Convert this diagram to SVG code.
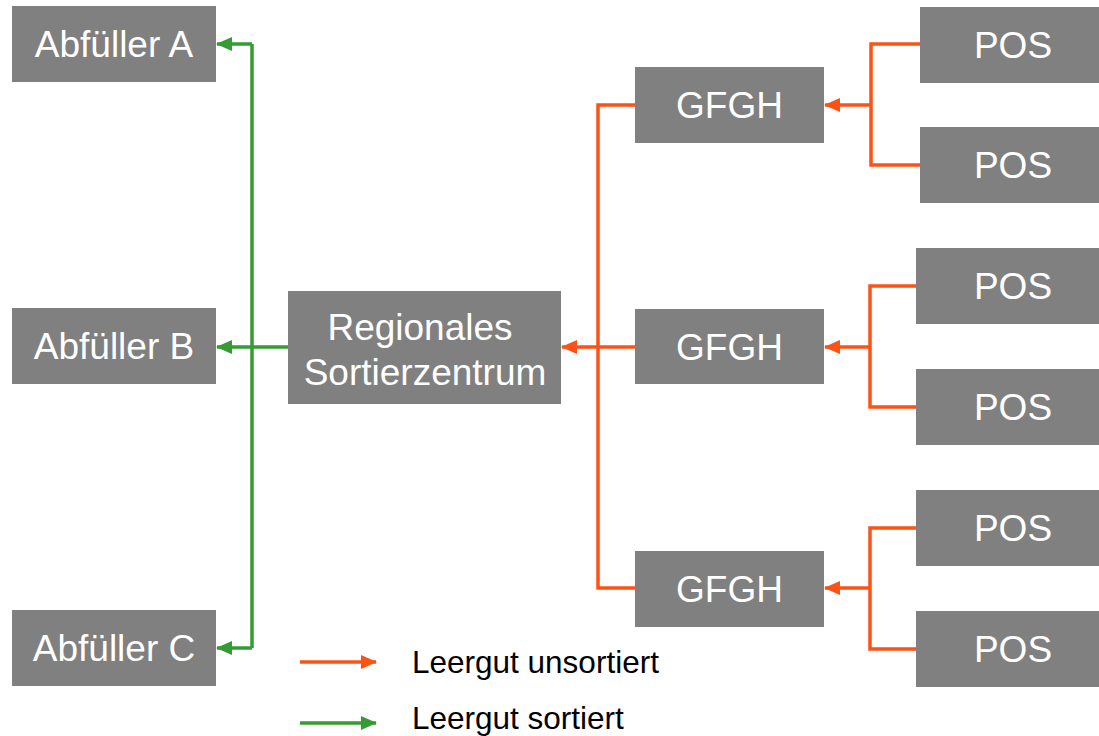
<svg xmlns="http://www.w3.org/2000/svg" width="1099" height="736" viewBox="0 0 1099 736">
<style>
.box{fill:#808080}
.lbl{font-family:"Liberation Sans",Arial,sans-serif;font-size:37px;fill:#fff;text-anchor:middle}
.leg{font-family:"Liberation Sans",Arial,sans-serif;font-size:31.5px;fill:#000}
.or{stroke:#FC5216;stroke-width:3.5;fill:none}
.gr{stroke:#359B35;stroke-width:3.5;fill:none}
</style>
<defs>
<marker id="ao" markerUnits="userSpaceOnUse" markerWidth="16" markerHeight="14" refX="15" refY="7" orient="auto"><path d="M0,0 L16,7 L0,14 z" fill="#FC5216"/></marker>
<marker id="ag" markerUnits="userSpaceOnUse" markerWidth="16" markerHeight="14" refX="15" refY="7" orient="auto"><path d="M0,0 L16,7 L0,14 z" fill="#359B35"/></marker>
</defs>
<rect width="1099" height="736" fill="#fff"/>
<g id="connectors">
<path class="gr" d="M252,44 V648"/>
<path class="gr" d="M252,44 H217" marker-end="url(#ag)"/>
<path class="gr" d="M288,347 H217" marker-end="url(#ag)"/>
<path class="gr" d="M252,648 H217" marker-end="url(#ag)"/>
<path class="or" d="M635,105 H598 V588 H635"/>
<path class="or" d="M635,347 H562" marker-end="url(#ao)"/>
<path class="or" d="M920,44 H871 V165 H920"/>
<path class="or" d="M871,105 H825" marker-end="url(#ao)"/>
<path class="or" d="M916,286 H870 V407 H916"/>
<path class="or" d="M870,347 H825" marker-end="url(#ao)"/>
<path class="or" d="M916,528 H870 V649 H916"/>
<path class="or" d="M870,588 H825" marker-end="url(#ao)"/>
</g>
<g id="abfueller-a"><rect class="box" x="12" y="6" width="204" height="76"/><text class="lbl" x="114" y="57">Abfüller A</text></g>
<g id="abfueller-b"><rect class="box" x="12" y="308" width="204" height="76"/><text class="lbl" x="114" y="359">Abfüller B</text></g>
<g id="abfueller-c"><rect class="box" x="12" y="610" width="204" height="76"/><text class="lbl" x="114" y="661">Abfüller C</text></g>
<g id="sortierzentrum"><rect class="box" x="288" y="291" width="273" height="113"/><text class="lbl" x="420" y="340">Regionales</text><text class="lbl" x="425" y="385">Sortierzentrum</text></g>
<g id="gfgh-1"><rect class="box" x="635" y="67" width="189" height="76"/><text class="lbl" x="729.5" y="118">GFGH</text></g>
<g id="gfgh-2"><rect class="box" x="635" y="309" width="189" height="75"/><text class="lbl" x="729.5" y="360">GFGH</text></g>
<g id="gfgh-3"><rect class="box" x="635" y="551" width="189" height="76"/><text class="lbl" x="729.5" y="602">GFGH</text></g>
<g id="pos-1"><rect class="box" x="920" y="7" width="179" height="76"/><text class="lbl" x="1013" y="58">POS</text></g>
<g id="pos-2"><rect class="box" x="920" y="127" width="179" height="76"/><text class="lbl" x="1013" y="178">POS</text></g>
<g id="pos-3"><rect class="box" x="916" y="248" width="183" height="76"/><text class="lbl" x="1013" y="299">POS</text></g>
<g id="pos-4"><rect class="box" x="916" y="369" width="183" height="76"/><text class="lbl" x="1013" y="420">POS</text></g>
<g id="pos-5"><rect class="box" x="916" y="490" width="183" height="76"/><text class="lbl" x="1013" y="541">POS</text></g>
<g id="pos-6"><rect class="box" x="916" y="611" width="183" height="76"/><text class="lbl" x="1013" y="662">POS</text></g>
<g id="legend">
<path class="or" d="M300,662 H376" marker-end="url(#ao)"/>
<text class="leg" x="412" y="673">Leergut unsortiert</text>
<path class="gr" d="M300,723 H376" marker-end="url(#ag)"/>
<text class="leg" x="412" y="729">Leergut sortiert</text>
</g>
</svg>
